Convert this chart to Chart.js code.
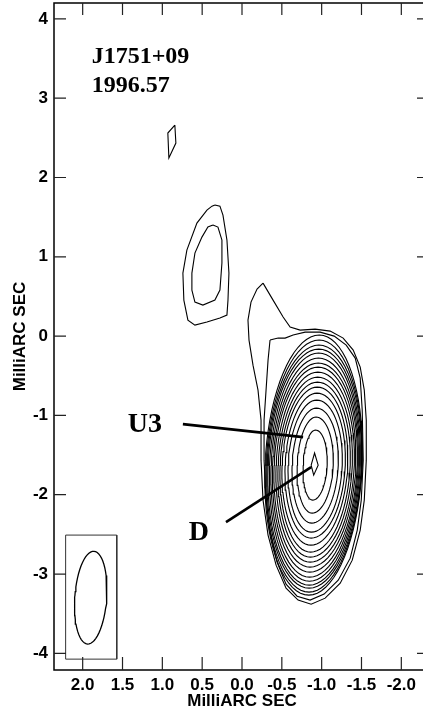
<!DOCTYPE html>
<html>
<head>
<meta charset="utf-8">
<script src="https://cdn.jsdelivr.net/npm/chart.js@4/dist/chart.umd.min.js"></script>
<style>
  html, body { margin: 0; padding: 0; background: #fff; overflow: hidden; }
  canvas { display: block; }
</style>
</head>
<body>
<canvas id="map" width="432" height="713"></canvas>
<script>
// axis ticks (milliarcsec)
const xTicks = [2.0, 1.5, 1.0, 0.5, 0.0, -0.5, -1.0, -1.5, -2.0];
const yTicks = [-4, -3, -2, -1, 0, 1, 2, 3, 4];

// peak of the core component
const peakX = -0.905;
const peakY = -1.627;

// nested contours around the peak, innermost first: extents in mas
const ringTop = [-1.475, -1.185, -1.021, -0.908, -0.807, -0.719, -0.643, -0.580, -0.517, -0.454, -0.391, -0.340, -0.277, -0.214, -0.164, -0.113, -0.050, 0.013];
const ringBottom = [-1.753, -2.068, -2.232, -2.358, -2.472, -2.547, -2.636, -2.724, -2.787, -2.850, -2.913, -2.976, -3.039, -3.090, -3.140, -3.178, -3.228, -3.266];
const ringLeft = [-0.868, -0.767, -0.692, -0.629, -0.579, -0.541, -0.503, -0.478, -0.453, -0.428, -0.403, -0.384, -0.365, -0.346, -0.327, -0.314, -0.302, -0.289];
const ringRight = [-0.956, -1.069, -1.145, -1.208, -1.258, -1.296, -1.327, -1.358, -1.384, -1.409, -1.428, -1.447, -1.459, -1.472, -1.484, -1.497, -1.503, -1.509];

// lowest two contours
const outerX = [-0.264, -0.390, -0.516, -0.604, -0.730, -0.918, -1.107, -1.270, -1.396, -1.484, -1.535, -1.560, -1.560, -1.535, -1.484, -1.384, -1.233, -1.044, -0.868, -0.704, -0.553, -0.428, -0.327, -0.264, -0.239, -0.239, -0.201, -0.138, -0.088, -0.075, -0.113, -0.189, -0.264];
const outerY = [0.668, 0.454, 0.240, 0.113, 0.076, 0.088, 0.063, -0.025, -0.177, -0.391, -0.681, -1.059, -1.564, -2.068, -2.446, -2.825, -3.115, -3.304, -3.380, -3.329, -3.178, -2.888, -2.509, -2.068, -1.564, -1.059, -0.681, -0.366, -0.050, 0.202, 0.429, 0.593, 0.668];
const secondX = [-0.352, -0.453, -0.541, -0.642, -0.792, -0.981, -1.157, -1.308, -1.421, -1.484, -1.509, -1.522, -1.497, -1.447, -1.358, -1.208, -1.031, -0.855, -0.692, -0.553, -0.440, -0.352, -0.302, -0.277, -0.277, -0.302, -0.327, -0.352];
const secondY = [-0.050, -0.025, -0.025, 0.013, 0.050, 0.050, 0.000, -0.113, -0.277, -0.530, -0.933, -1.564, -2.068, -2.446, -2.800, -3.077, -3.253, -3.329, -3.279, -3.127, -2.850, -2.472, -2.068, -1.564, -1.059, -0.681, -0.303, -0.050];

// component north-east of the core
const blobOuterX = [0.340, 0.277, 0.239, 0.189, 0.164, 0.176, 0.189, 0.277, 0.440, 0.591, 0.679, 0.730, 0.742, 0.692, 0.566, 0.440, 0.377, 0.340];
const blobOuterY = [1.652, 1.639, 1.526, 1.211, 0.794, 0.454, 0.265, 0.227, 0.177, 0.139, 0.202, 0.454, 0.794, 1.084, 1.425, 1.589, 1.639, 1.652];
const blobInnerX = [0.365, 0.302, 0.252, 0.252, 0.277, 0.340, 0.491, 0.591, 0.629, 0.629, 0.591, 0.503, 0.428, 0.365];
const blobInnerY = [1.400, 1.375, 1.211, 0.921, 0.580, 0.454, 0.391, 0.429, 0.580, 0.794, 1.047, 1.248, 1.375, 1.400];

// small isolated patch
const patchX = [0.843, 0.830, 0.918, 0.931, 0.843];
const patchY = [2.661, 2.434, 2.245, 2.560, 2.661];

// restoring beam and its box
const beamX = 1.899, beamY = -3.298, beamMajor = 0.586, beamMinor = 0.20, beamPA = -4;
const boxX = [2.214, 1.572, 1.572, 2.214, 2.214];
const boxY = [-2.509, -2.509, -4.073, -4.073, -2.509];

// labels and their pointers
const pointerU3 = [[0.742, -1.110], [-0.767, -1.274]];
const pointerD = [[0.201, -2.346], [-0.868, -1.652]];
const labels = [
  { text: 'J1751+09', x: 1.887, y: 3.443, size: 24 },
  { text: '1996.57', x: 1.887, y: 3.077, size: 24 },
  { text: 'U3', x: 1.434, y: -1.211, size: 28 },
  { text: 'D', x: 0.667, y: -2.572, size: 28 }
];

const skew = -0.04;

function zip(xs, ys) {
  return xs.map((x, i) => ({ x: x, y: ys[i] }));
}

function ring(i) {
  const pts = [];
  const n = i === 0 ? 4 : 72;
  for (let k = 0; k <= n; k++) {
    const t = 2 * Math.PI * k / n;
    const c = Math.cos(t), s = Math.sin(t);
    const dx = c >= 0 ? c * (ringLeft[i] - peakX) : -c * (ringRight[i] - peakX);
    const dy = s >= 0 ? s * (ringTop[i] - peakY) : -s * (ringBottom[i] - peakY);
    pts.push({ x: peakX + dx + skew * dy, y: peakY + dy });
  }
  return pts;
}

function beam() {
  const pts = [];
  const a = beamPA * Math.PI / 180;
  for (let k = 0; k <= 60; k++) {
    const t = 2 * Math.PI * k / 60;
    const u = beamMinor * Math.cos(t), v = beamMajor * Math.sin(t);
    pts.push({ x: beamX + u * Math.cos(a) + v * Math.sin(a), y: beamY - u * Math.sin(a) + v * Math.cos(a) });
  }
  return pts;
}

function line(data, width, color) {
  return {
    data: data,
    showLine: true,
    borderColor: color || '#000',
    borderWidth: width,
    pointRadius: 0,
    fill: false,
    tension: 0
  };
}

let datasets = [];
for (let i = 0; i < ringTop.length; i++) {
  datasets.push(line(ring(i), 1.1));
}
datasets.push(line(zip(secondX, secondY), 1.1));
datasets.push(line(zip(outerX, outerY), 1.1));
datasets.push(line(zip(blobOuterX, blobOuterY), 1.1));
datasets.push(line(zip(blobInnerX, blobInnerY), 1.1));
datasets.push(line(zip(patchX, patchY), 1.1));
datasets.push(line(beam(), 1.3));
datasets.push(line(zip(boxX, boxY), 1, '#333'));
datasets.push(line(pointerU3.map(p => ({ x: p[0], y: p[1] })), 2.6));
datasets.push(line(pointerD.map(p => ({ x: p[0], y: p[1] })), 2.6));

const frame = {
  id: 'frame',
  afterDatasetsDraw(chart) {
    const ctx = chart.ctx;
    const a = chart.chartArea;
    const xs = chart.scales.x, ys = chart.scales.y;
    ctx.save();
    ctx.strokeStyle = '#000';
    ctx.lineWidth = 1.5;
    ctx.strokeRect(a.left, a.top, a.right - a.left, a.bottom - a.top);
    ctx.lineWidth = 1.2;
    ctx.strokeStyle = '#222';
    ctx.beginPath();
    xTicks.forEach(v => {
      const px = xs.getPixelForValue(v);
      ctx.moveTo(px, a.bottom); ctx.lineTo(px, a.bottom - 13);
      ctx.moveTo(px, a.top); ctx.lineTo(px, a.top + 12);
    });
    yTicks.forEach(v => {
      const py = ys.getPixelForValue(v);
      ctx.moveTo(a.left, py); ctx.lineTo(a.left + 12, py);
      ctx.moveTo(a.right, py); ctx.lineTo(a.right - 13, py);
    });
    ctx.stroke();
    ctx.fillStyle = '#000';
    ctx.textBaseline = 'alphabetic';
    ctx.textAlign = 'left';
    labels.forEach(l => {
      ctx.font = 'bold ' + l.size + 'px "Liberation Serif", "Times New Roman", serif';
      ctx.fillText(l.text, xs.getPixelForValue(l.x), ys.getPixelForValue(l.y));
    });
    ctx.restore();
  }
};

const axisFont = { family: '"Liberation Sans", Arial, sans-serif', weight: 'bold', size: 17 };

new Chart(document.getElementById('map').getContext('2d'), {
  type: 'scatter',
  data: { datasets: datasets },
  options: {
    responsive: false,
    devicePixelRatio: 1,
    animation: false,
    layout: { padding: { top: 3, right: 2, left: 0, bottom: 0 } },
    plugins: { legend: { display: false }, tooltip: { enabled: false } },
    scales: {
      x: {
        type: 'linear',
        reverse: true,
        min: -2.36,
        max: 2.36,
        afterBuildTicks: s => { s.ticks = xTicks.map(v => ({ value: v })); },
        afterFit: s => { s.height = 43; s.paddingLeft = 0; s.paddingRight = 0; },
        grid: { display: false, drawTicks: false },
        border: { display: false },
        ticks: { color: '#000', font: axisFont, padding: 5, maxRotation: 0, callback: v => v.toFixed(1) },
        title: { display: true, text: 'MilliARC SEC', color: '#000', font: axisFont, padding: { top: 0, bottom: 1 } }
      },
      y: {
        type: 'linear',
        min: -4.21,
        max: 4.2,
        afterBuildTicks: s => { s.ticks = yTicks.map(v => ({ value: v })); },
        afterFit: s => { s.width = 54; s.paddingTop = 0; s.paddingBottom = 0; },
        grid: { display: false, drawTicks: false },
        border: { display: false },
        ticks: { color: '#000', font: axisFont, padding: 6, callback: v => String(v) },
        title: { display: true, text: 'MilliARC SEC', color: '#000', font: axisFont, padding: { top: 10, bottom: 0 } }
      }
    }
  },
  plugins: [frame]
});
</script>
</body>
</html>
